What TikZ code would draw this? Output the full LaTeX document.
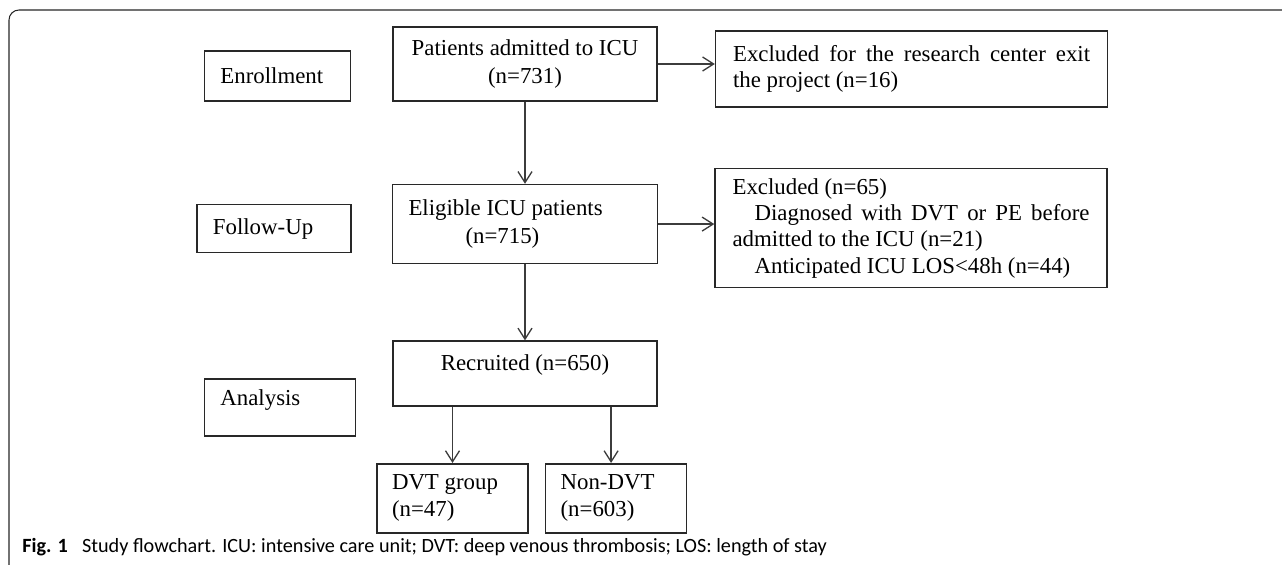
\documentclass[tikz,border=0pt]{standalone}
\usepackage{fontspec}
\setmainfont{Liberation Serif}
\newfontfamily\capfont{Carlito}
\usepackage{tikz}
\usetikzlibrary{arrows.meta, positioning}
\definecolor{boxline}{RGB}{40,40,40}
\definecolor{arrowline}{RGB}{60,60,60}
\tikzset{
    flowbox/.style={rectangle, draw=boxline, line width=0.9pt, align=center, inner sep=0pt, font=\fontsize{13}{15.5}\selectfont},
    phasebox/.style={rectangle, draw=boxline, line width=0.9pt, align=flush left, inner xsep=0.32cm, inner ysep=0pt, font=\fontsize{13}{15.5}\selectfont},
    notebox/.style={rectangle, draw=boxline, line width=0.9pt, align=justify, inner xsep=0.35cm, inner ysep=0pt, text width=7.14cm, minimum width=7.84cm, font=\fontsize{13}{15}\selectfont},
}

\begin{document}
\begin{tikzpicture}[
    arrow/.style={-{Straight Barb[length=0.22cm, width=0.28cm]}, arrowline, line width=0.75pt},
    frame/.style={draw=black!85, line width=0.6pt, rounded corners=0.2cm}
]
\useasboundingbox (0,0) rectangle (25.64,-11.3);

% main column
\node[flowbox, minimum width=5.28cm, minimum height=1.48cm] at (10.5,-1.28) (pat) {Patients admitted to ICU\\(n=731)};
\node[phasebox, below=1.64cm of pat, text width=4.66cm, minimum height=1.58cm] (elig) {Eligible ICU patients\\\hspace*{1.14cm}(n=715)};
\node[flowbox, below=1.52cm of elig, minimum width=5.28cm, minimum height=1.3cm, text height=0.33cm, text depth=0.44cm] (rec) {Recruited (n=650)};
\node[phasebox, below=1.12cm of rec.south, xshift=-1.45cm, anchor=north, text width=2.42cm, inner xsep=0.3cm, minimum height=1.38cm] (dvt) {DVT group\\(n=47)};
\node[phasebox, right=0.32cm of dvt, text width=2.22cm, inner xsep=0.3cm, minimum height=1.38cm] (nondvt) {Non-DVT\\(n=603)};

% phase labels
\node[phasebox, left=0.82cm of pat.south west, anchor=south east, text width=2.28cm, minimum height=1cm] (enr) {Enrollment};
\node[phasebox, left=0.8cm of elig, yshift=-0.09cm, text width=2.44cm, minimum height=0.96cm] (folup) {Follow-Up};
\node[phasebox, left=0.72cm of rec, yshift=-0.68cm, text width=2.38cm, minimum height=1.14cm, text height=0.33cm, text depth=0.4cm] (ana) {Analysis};

% exclusions
\node[notebox, right=1.14cm of pat.north east, anchor=north west, yshift=-0.08cm, minimum height=1.52cm] (exit) {Excluded for the research center exit the project (n=16)};
\node[notebox, right=1.12cm of elig, yshift=-0.08cm, minimum height=2.38cm] (excl) {Excluded (n=65)\\
\hspace*{0.44cm}Diagnosed with DVT or PE before\linebreak admitted to the ICU (n=21)\\
\hspace*{0.44cm}Anticipated ICU LOS<48h (n=44)};

% arrows
\draw[arrow] (pat.south) -- (elig.north);
\draw[arrow] (elig.south) -- (rec.north);
\draw[arrow] (pat.east) -- (exit.west |- pat.east);
\draw[arrow] (elig.east) -- (excl.west |- elig.east);
\draw[arrow] (rec.south -| dvt.north) -- (dvt.north);
\draw[arrow] ([xshift=-0.1cm]rec.south -| nondvt.north) -- ([xshift=-0.1cm]nondvt.north);

% figure frame and caption
\coordinate (frame-bl) at (0.18,-11.3);
\coordinate (frame-tl) at (0.18,-0.2);
\coordinate (frame-tr) at (25.64,-0.2);
\draw[frame] (frame-bl) -- (frame-tl) -- (frame-tr);
\node[anchor=west, inner sep=0pt, font=\capfont\fontsize{11.5}{13}\selectfont] at (0.44,-10.94) (caption) {\textbf{Fig. 1}\hspace{0.7em}Study flowchart. ICU: intensive care unit; DVT: deep venous thrombosis; LOS: length of stay};

\end{tikzpicture}
\end{document}
